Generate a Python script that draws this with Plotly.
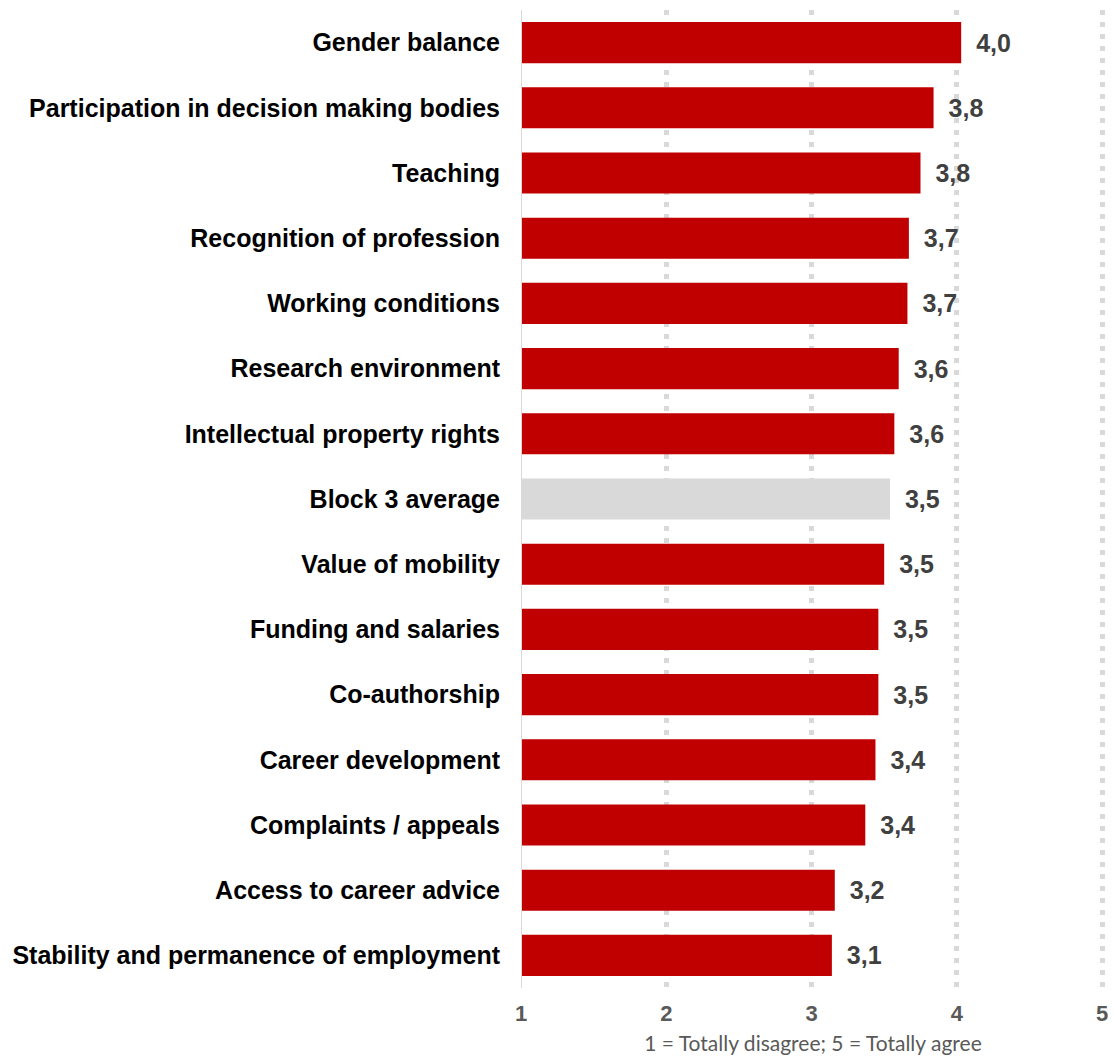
import plotly.graph_objects as go

# Survey items, listed top to bottom, with mean agreement scores
items = [
    "Gender balance",
    "Participation in decision making bodies",
    "Teaching",
    "Recognition of profession",
    "Working conditions",
    "Research environment",
    "Intellectual property rights",
    "Block 3 average",
    "Value of mobility",
    "Funding and salaries",
    "Co-authorship",
    "Career development",
    "Complaints / appeals",
    "Access to career advice",
    "Stability and permanence of employment",
]
scores = [4.03, 3.84, 3.75, 3.67, 3.66, 3.60, 3.57, 3.54, 3.50, 3.46, 3.46, 3.44, 3.37, 3.16, 3.14]

x_ticks = [1, 2, 3, 4, 5]
x_tick_labels = ["1", "2", "3", "4", "5"]
scale_note = "1 = Totally disagree; 5 = Totally agree"

RED = "#c00000"
GREY = "#d9d9d9"
bar_colors = [GREY if name == "Block 3 average" else RED for name in items]

ARIAL = "Liberation Sans, Arial, sans-serif"

fig = go.Figure(
    go.Bar(
        y=items,
        x=scores,
        orientation="h",
        marker=dict(color=bar_colors, line=dict(width=0)),
        texttemplate=" \u2009%{x:.1f}",
        textposition="outside",
        constraintext="none",
        cliponaxis=False,
        textfont=dict(family=ARIAL, size=25, color="#404040", weight="bold"),
        hoverinfo="skip",
    )
)

# solid baseline at the scale minimum
fig.add_shape(type="line", xref="x", yref="paper", x0=1, x1=1, y0=0, y1=1,
              line=dict(color="#d9d9d9", width=2), layer="above")

fig.update_layout(
    width=1115,
    height=1059,
    margin=dict(l=521, r=7, t=10, b=71),
    paper_bgcolor="white",
    plot_bgcolor="white",
    bargap=0.37,
    showlegend=False,
    separators=",.",
    font=dict(family=ARIAL),
)

fig.update_xaxes(
    range=[1, 5.02],
    tickvals=x_ticks,
    ticktext=x_tick_labels,
    showgrid=True,
    gridcolor="#d9d9d9",
    gridwidth=5,
    griddash="5px,7px",
    zeroline=False,
    showline=False,
    ticks="",
    ticklabelstandoff=10,
    tickfont=dict(family=ARIAL, size=22, color="#595959", weight="bold"),
    title=dict(text=scale_note, standoff=11,
               font=dict(family="Lato, Open Sans, sans-serif", size=21, color="#595959")),
)

fig.update_yaxes(
    autorange="reversed",
    showgrid=False,
    zeroline=False,
    showline=False,
    ticks="",
    ticklabelstandoff=20,
    tickfont=dict(family=ARIAL, size=25, color="#000000", weight="bold"),
)

fig.write_html("out.html")
